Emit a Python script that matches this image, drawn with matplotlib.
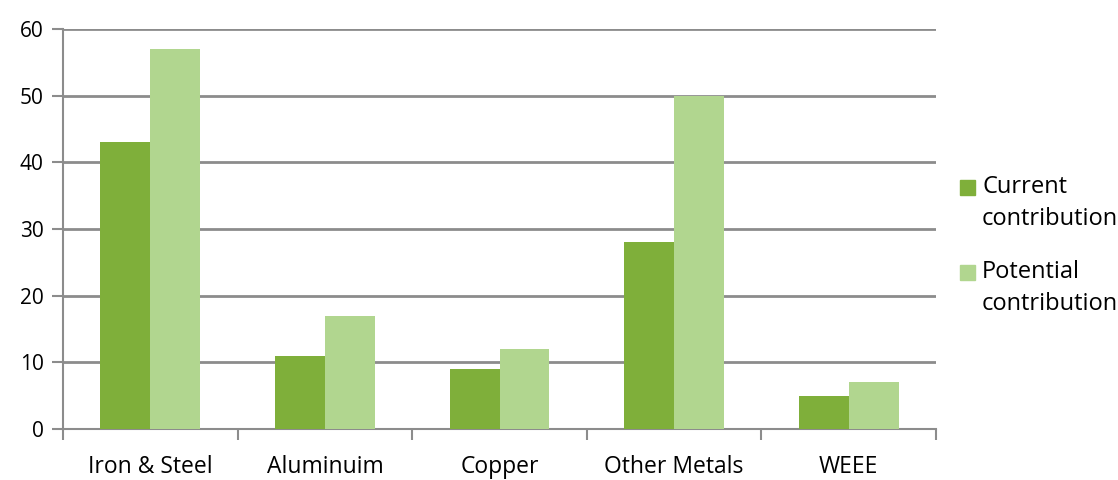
import matplotlib
matplotlib.use('Agg')
import matplotlib.pyplot as plt
from matplotlib.patches import Rectangle
import numpy as np

categories = ['Iron & Steel', 'Aluminuim', 'Copper', 'Other Metals', 'WEEE']
current = [43, 11, 9, 28, 5]
potential = [57, 17, 12, 50, 7]
series_names = ['Current\ncontribution', 'Potential\ncontribution']
yticks = [0, 10, 20, 30, 40, 50, 60]

dark = '#7FAF3A'
light = '#B1D68F'
grid = '#8C8C8C'

plt.rcParams['font.family'] = ['Open Sans', 'DejaVu Sans']

W, H = 1118, 480
fig = plt.figure(figsize=(W / 100, H / 100), dpi=100)
ax = fig.add_axes([63 / W, 1 - 429 / H, (936 - 63) / W, 400 / H])

x = np.arange(len(categories))
w = 50 / 175
ax.bar(x - w / 2, current, width=w, color=dark, zorder=3)
ax.bar(x + w / 2, potential, width=w, color=light, zorder=3)

ax.set_xlim(-0.5, len(categories) - 0.5)
ax.set_ylim(0, 60)
ax.set_yticks(yticks)
ax.tick_params(axis='y', length=8, width=1.5, color=grid, labelsize=15, pad=6)
ax.yaxis.grid(True, color=grid, linewidth=2, zorder=0)

# category boundaries as ticks on the x axis
ax.set_xticks(np.arange(-0.5, len(categories)))
ax.set_xticklabels([])
ax.tick_params(axis='x', length=8, width=1.5, color=grid)
ax.set_xticks(x, minor=True)
ax.set_xticklabels(categories, minor=True, fontsize=16.5)
ax.tick_params(axis='x', which='minor', length=0, pad=19)

for s in ['top', 'right']:
    ax.spines[s].set_visible(False)
for s in ['left', 'bottom']:
    ax.spines[s].set_color(grid)
    ax.spines[s].set_linewidth(1.5)

# legend: square aligned with the first line of each label
for i, (name, col) in enumerate(zip(series_names, [dark, light])):
    top = 180 + i * 85
    fig.patches.append(Rectangle((960 / W, 1 - (top + 15) / H), 15 / W, 15 / H,
                                 transform=fig.transFigure, color=col))
    fig.text(982 / W, 1 - (top - 5) / H, name, fontsize=17, va='top', ha='left',
             linespacing=1.45)

fig.savefig('out.png', dpi=100)
